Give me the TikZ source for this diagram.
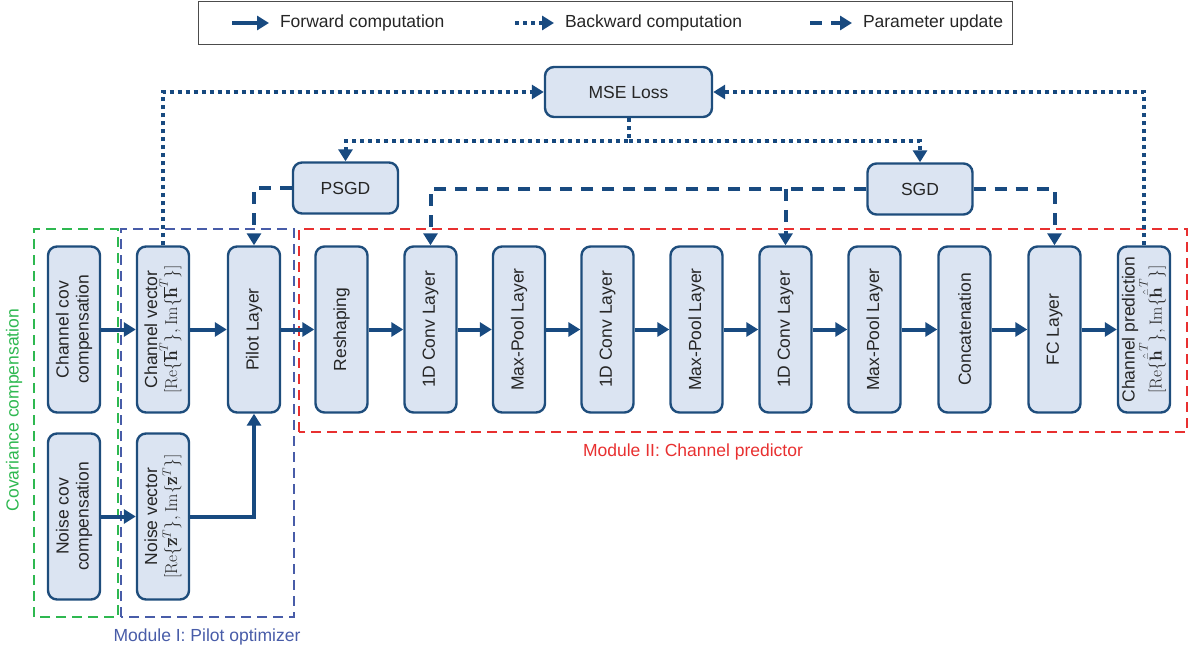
\documentclass[tikz,border=0pt]{standalone}
\usepackage[no-math]{fontspec}
\setmainfont{Liberation Sans}
\usetikzlibrary{arrows.meta,positioning}

\definecolor{boxfill}{RGB}{219,228,242}
\definecolor{boxline}{RGB}{30,77,124}
\definecolor{flow}{RGB}{24,74,128}
\definecolor{covgreen}{RGB}{46,184,80}
\definecolor{modblue}{RGB}{72,92,168}
\definecolor{modred}{RGB}{232,48,48}
\definecolor{txt}{RGB}{38,38,38}

\tikzset{
  block/.style={draw=boxline, fill=boxfill, line width=2.4pt, rounded corners=9pt,
    text=txt, align=center, font=\fontsize{17.5}{20}\selectfont},
  vblock/.style={block, rotate=90, minimum width=166pt, minimum height=52pt, inner sep=1pt},
  hblock/.style={block, minimum width=105pt, minimum height=51pt},
  fwd/.style={flow, line width=4pt, -{Triangle[length=12pt,width=14pt]}},
  bwd/.style={flow, line width=4pt, dash pattern=on 4pt off 4pt, -{Triangle[length=12pt,width=14pt]}},
  upd/.style={flow, line width=4pt, dash pattern=on 12pt off 9pt, -{Triangle[length=12pt,width=14pt]}},
  module/.style={line width=1.6pt, dash pattern=on 10pt off 6pt},
  modlabel/.style={font=\fontsize{17.5}{20}\selectfont},
  leglabel/.style={right, text=txt, inner sep=9pt, font=\fontsize{17.5}{20}\selectfont},
}

\begin{document}
\begin{tikzpicture}[x=1pt,y=1pt]
  \useasboundingbox (0,0) rectangle (1190,654);

  % legend
  \node[draw=black!70, line width=1pt, minimum width=814pt, minimum height=43pt] (legend) at (605,630.5) {};
  \coordinate (lfa) at (232,631); \coordinate (lfb) at (269,631);
  \coordinate (lba) at (515,631); \coordinate (lbb) at (554,631);
  \coordinate (lua) at (810,631); \coordinate (lub) at (852,631);
  \draw[fwd] (lfa) -- (lfb) node[leglabel] {Forward computation};
  \draw[bwd] (lba) -- (lbb) node[leglabel] {Backward computation};
  \draw[upd] (lua) -- (lub) node[leglabel] {Parameter update};

  % module frames
  \draw[module, covgreen] (34,37) rectangle (118,425);
  \draw[module, modblue] (121,37) rectangle (294,425);
  \draw[module, modred] (299,222) rectangle (1187,425);
  \node[modlabel, text=covgreen, rotate=90] (covlbl) at (14,244) {Covariance compensation};
  \node[modlabel, text=modblue] (mod1lbl) at (207,17) {Module I: Pilot optimizer};
  \node[modlabel, text=modred] (mod2lbl) at (693,202) {Module II: Channel predictor};

  % top blocks
  \node[block, minimum width=167pt, minimum height=50pt] (mse) at (628.5,562) {MSE Loss};
  \node[hblock] (psgd) at (345.5,466) {PSGD};
  \node[hblock] (sgd) at (920,465) {SGD};

  % main row
  \node[vblock] (ccov) at (74,324.5) {Channel cov\\compensation};
  \node[vblock] (cvec) at (163,324.5) {Channel vector\\$[\mathrm{Re}\{\overline{\mathbf{h}}^T\},\mathrm{Im}\{\overline{\mathbf{h}}^T\}]$};
  \node[vblock] (pilot) at (254,324.5) {Pilot Layer};
  \node[vblock] (resh) at (341.5,324.5) {Reshaping};
  \node[vblock] (conv1) at (430.5,324.5) {1D Conv Layer};
  \node[vblock] (pool1) at (519,324.5) {Max-Pool Layer};
  \node[vblock] (conv2) at (607.5,324.5) {1D Conv Layer};
  \node[vblock] (pool2) at (696.5,324.5) {Max-Pool Layer};
  \node[vblock] (conv3) at (785.5,324.5) {1D Conv Layer};
  \node[vblock] (pool3) at (874.5,324.5) {Max-Pool Layer};
  \node[vblock] (concat) at (964.5,324.5) {Concatenation};
  \node[vblock] (fc) at (1054.5,324.5) {FC Layer};
  \node[vblock] (cpred) at (1144,324.5) {Channel prediction\\$[\mathrm{Re}\{\hat{\bar{\mathbf{h}}}^T\},\mathrm{Im}\{\hat{\bar{\mathbf{h}}}^T\}]$};

  % bottom row
  \node[vblock] (ncov) at (74,137.5) {Noise cov\\compensation};
  \node[vblock] (nvec) at (163,137.5) {Noise vector\\$[\mathrm{Re}\{\overline{\mathbf{z}}^T\},\mathrm{Im}\{\overline{\mathbf{z}}^T\}]$};

  % forward
  \draw[fwd] (ccov.south) -- (cvec.north);
  \draw[fwd] (cvec.south) -- (pilot.north);
  \draw[fwd] (pilot.south) -- (resh.north);
  \draw[fwd] (resh.south) -- (conv1.north);
  \draw[fwd] (conv1.south) -- (pool1.north);
  \draw[fwd] (pool1.south) -- (conv2.north);
  \draw[fwd] (conv2.south) -- (pool2.north);
  \draw[fwd] (pool2.south) -- (conv3.north);
  \draw[fwd] (conv3.south) -- (pool3.north);
  \draw[fwd] (pool3.south) -- (concat.north);
  \draw[fwd] (concat.south) -- (fc.north);
  \draw[fwd] (fc.south) -- (cpred.north);
  \draw[fwd] (ncov.south) -- (nvec.north);
  \draw[fwd] (nvec.south) -| (pilot.west);

  % backward
  \draw[bwd] (cvec.east) |- (mse.west);
  \draw[bwd] (cpred.east) |- (mse.east);
  \draw[bwd] (mse.south) -- ++(0,-23) coordinate (bsplit) -| (psgd.north);
  \draw[bwd] (bsplit) -| (sgd.north);

  % parameter update
  \draw[upd] (psgd.west) -| (pilot.east);
  \draw[upd] (sgd.west) -| (conv1.east);
  \draw[upd] (sgd.west -| conv3.east) -- (conv3.east);
  \draw[upd] (sgd.east) -| (fc.east);
\end{tikzpicture}
\end{document}
